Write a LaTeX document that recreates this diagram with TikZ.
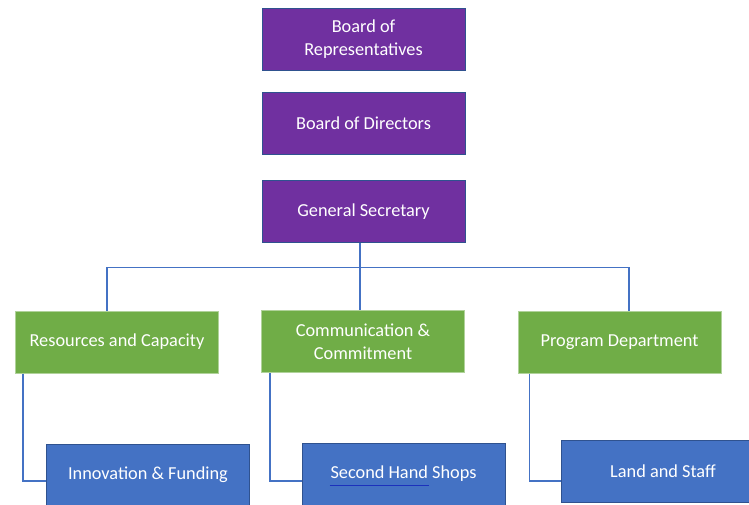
\documentclass[tikz,border=0pt]{standalone}
\usepackage{fontspec}
\setmainfont{Carlito}
\usetikzlibrary{calc}
\definecolor{boardpurple}{HTML}{7030A0}
\definecolor{deptgreen}{HTML}{70AD47}
\definecolor{unitblue}{HTML}{4472C4}
\definecolor{edgeblue}{HTML}{2F528F}
\definecolor{linkblue}{HTML}{4472C4}
\begin{document}
\begin{tikzpicture}[x=1pt,y=-1pt,
  box/.style={rectangle, minimum width=203pt, minimum height=62pt, inner sep=0pt,
    text=white, align=center, font=\fontsize{18.3}{23}\selectfont, line width=1pt},
  board/.style={box, fill=boardpurple, draw=edgeblue},
  dept/.style={box, fill=deptgreen, draw=deptgreen!55!white},
  unit/.style={box, fill=unitblue, draw=edgeblue},
  link/.style={draw=linkblue, line width=1.1pt}]
\useasboundingbox (0,0) rectangle (749,504);
\clip (0,0) rectangle (749,504);
\fill[white] (0,0) rectangle (749,504);

% governing bodies
\node[board] (rep) at (363.5,39) {Board of\\Representatives};
\node[board] (dir) at (363.5,123) {Board of Directors};
\node[board] (sec) at (363.5,211.5) {General Secretary};

% departments
\node[dept] (res)  at (117,342) {Resources and Capacity};
\node[dept] (com)  at (363,341.5) {Communication \&\\Commitment};
\node[dept] (prog) at (619.5,342) {Program Department};

% units
\node[unit] (inn)  at (148,475) {Innovation \& Funding};
\node[unit] (shop) at (403.5,474) {Second Hand Shops};
\node[unit] (land) at (663,471.5) {Land and Staff};

% spell-check mark under the shop name
\draw[edgeblue!60!blue, line width=0.7pt] ($(shop.center)+(-74,11)$) -- ($(shop.center)+(25,11)$);

% tree connectors
\coordinate (busL) at ($(res.north)+(-10,-43)$);
\coordinate (busR) at ($(prog.north)+(9.5,-43)$);
\draw[link] ($(sec.south)+(-3.5,0)$) -- ($(com.north)+(-3,0)$);
\draw[link] ($(res.north)+(-10,0)$) -- (busL) -- (busR) -- ($(prog.north)+(9.5,0)$);
\draw[link] ($(res.south west)+(8,0)$) |- ($(inn.west)+(0,6)$);
\draw[link] ($(com.south west)+(9,0)$) |- ($(shop.west)+(0,7)$);
\draw[link] ($(prog.south west)+(12,0)$) |- ($(land.west)+(0,9.5)$);
\end{tikzpicture}
\end{document}
